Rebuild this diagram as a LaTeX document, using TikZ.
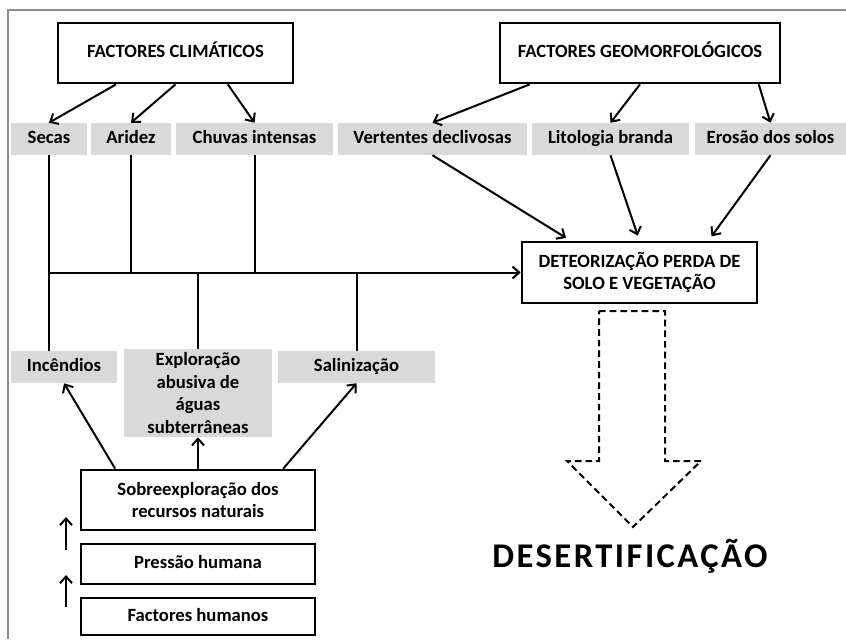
\documentclass[tikz,border=0pt]{standalone}
\usepackage{fontspec}
\setmainfont{Carlito}
\usetikzlibrary{arrows.meta,calc}

\begin{document}
\begin{tikzpicture}[
  x=0.75pt, y=-0.75pt,
  every node/.style={font=\bfseries\fontsize{14}{16.8}\selectfont, align=center, inner sep=0pt},
  sz/.style 2 args={minimum width=#1*0.75pt, minimum height=#2*0.75pt},
  one/.style={text height=9.6pt, text depth=2.8pt},
  box/.style={draw, line width=2pt},
  tag/.style={fill=black!15},
  ln/.style={line width=1.5pt},
  arr/.style={line width=1.5pt, -{Straight Barb[length=5pt,width=9pt]}}
  ]

  \useasboundingbox (0,0) rectangle (846,639);
  \draw[black!45, line width=1pt] (846,10) -- (8,10) -- (8,639);

  \node[box, one, sz={235}{60}] (clim) at (175.5,53) {FACTORES CLIMÁTICOS};
  \node[box, one, sz={280}{60}] (geo) at (640,53) {FACTORES GEOMORFOLÓGICOS};

  \node[tag, one, sz={76}{32}] (secas) at (49,139) {Secas};
  \node[tag, one, sz={80}{32}] (aridez) at (131,139) {Aridez};
  \node[tag, one, sz={157}{32}] (chuvas) at (254.5,139) {Chuvas intensas};
  \node[tag, one, sz={189}{32}] (vert) at (432.5,139) {Vertentes declivosas};
  \node[tag, one, sz={157}{32}] (lito) at (610.5,139) {Litologia branda};
  \node[tag, one, sz={151}{32}] (eros) at (770.5,139) {Erosão dos solos};

  \node[box, sz={235}{61}] (det) at (639.5,272.5) {DETEORIZAÇÃO PERDA DE\\SOLO E VEGETAÇÃO};

  \node[tag, one, sz={106}{32}] (incend) at (64,367) {Incêndios};
  \node[tag, sz={148}{88}] (explor) at (198,393) {Exploração\\abusiva de\\águas\\subterrâneas};
  \node[tag, one, sz={157}{32}] (salin) at (356.5,367) {Salinização};

  \node[box, sz={234}{60}] (sobre) at (198,500) {Sobreexploração dos\\recursos naturais};
  \node[box, one, sz={234}{40}] (press) at (198,564) {Pressão humana};
  \node[box, one, sz={234}{37}] (fhum) at (198,616.5) {Factores humanos};

  \draw[arr] ($(clim.south west)!0.25!(clim.south east)$) -- (secas.north);
  \draw[arr] ($(clim.south west)!0.5!(clim.south east)$) -- (aridez.north);
  \draw[arr] ($(clim.south west)!0.72!(clim.south east)$) -- (chuvas.north);

  \draw[arr] ($(geo.south west)!0.11!(geo.south east)$) -- (vert.north);
  \draw[arr] ($(geo.south west)!0.5!(geo.south east)$) -- (lito.north);
  \draw[arr] ($(geo.south west)!0.92!(geo.south east)$) -- (eros.north);

  \draw[arr, shorten >=4pt] (vert.south) -- ($(det.north west)!0.21!(det.north east)$);
  \draw[arr, shorten >=4pt] (lito.south) -- ($(det.north west)!0.5!(det.north east)$);
  \draw[arr, shorten >=4pt] (eros.south) -- ($(det.north west)!0.79!(det.north east)$);

  \draw[ln] (secas.south) -- (secas.south |- incend.north);
  \draw[ln] (aridez.south) -- (aridez.south |- det.west);
  \draw[ln] (chuvas.south) -- (chuvas.south |- det.west);
  \draw[ln] (explor.north) -- (explor.north |- det.west);
  \draw[ln] (salin.north) -- (salin.north |- det.west);
  \draw[arr] (secas.south |- det.west) -- (det.west);

  \draw[arr] ($(sobre.north west)!0.15!(sobre.north east)$) -- (incend.south);
  \draw[arr] (sobre.north) -- (explor.south);
  \draw[arr] ($(sobre.north west)!0.86!(sobre.north east)$) -- (salin.south);

  \coordinate (p1) at (66,550);
  \coordinate (p2) at (66,517);
  \coordinate (h1) at (66,607);
  \coordinate (h2) at (66,575);
  \draw[arr] (p1) -- (p2);
  \draw[arr] (h1) -- (h2);

  \draw[line width=1.5pt, dash pattern=on 5pt off 3pt] (599,311) -- (665,311) -- (665,461) -- (701,461)
    -- (633,527) -- (567,461) -- (599,461) -- cycle;

  \node[font=\bfseries\fontsize{26}{30}\selectfont\addfontfeature{LetterSpace=7}] (desert) at (630,556) {DESERTIFICAÇÃO};

\end{tikzpicture}
\end{document}
